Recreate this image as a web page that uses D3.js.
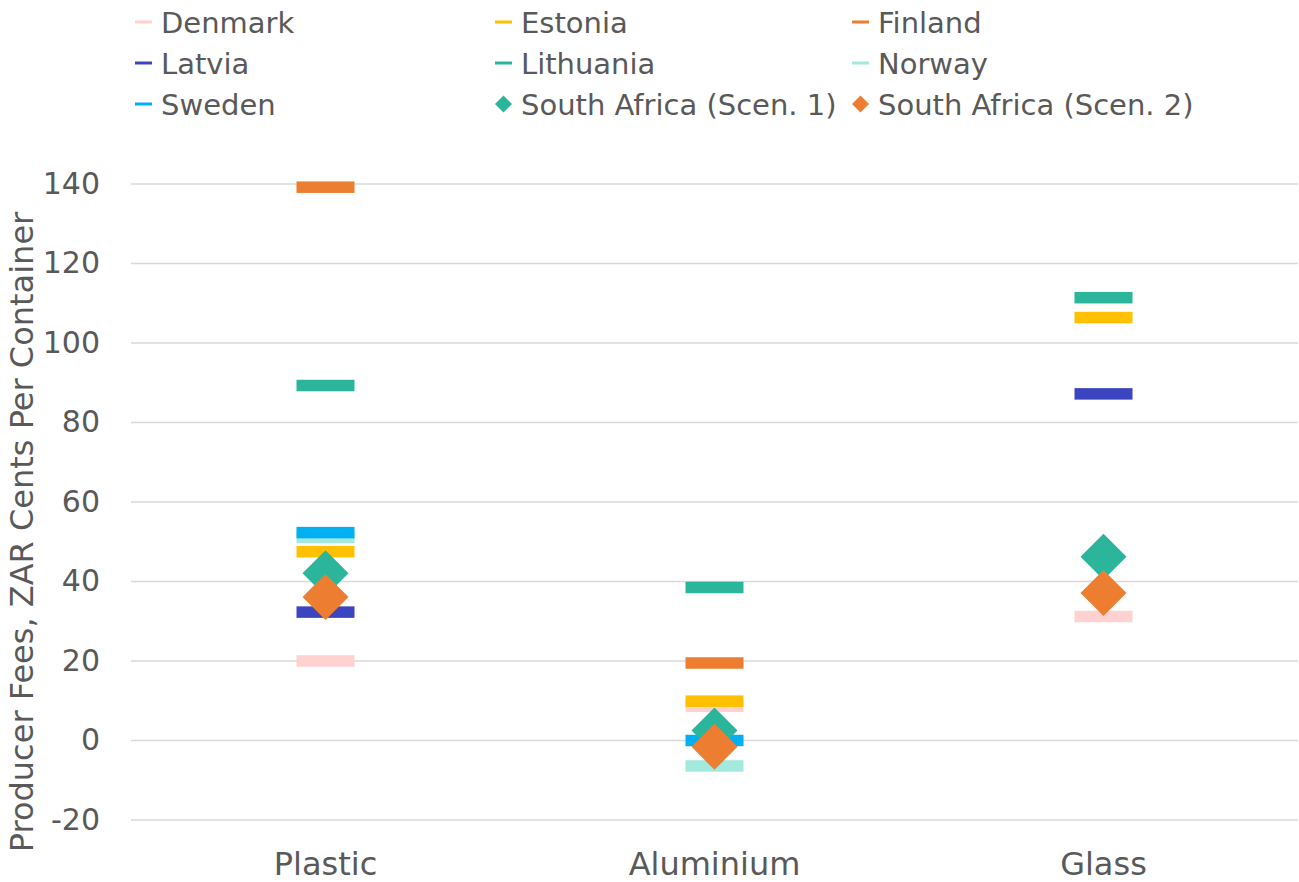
<!DOCTYPE html>
<html>
<head>
<meta charset="utf-8">
<script src="https://cdn.jsdelivr.net/npm/d3@7"></script>
<style>
  html, body { margin: 0; padding: 0; background: #fff; }
  svg text { font-family: "DejaVu Sans", sans-serif; fill: #595959; }
</style>
</head>
<body>
<svg id="chart" width="1299" height="882"></svg>
<script>
// ---- data ----
const categories = ["Plastic", "Aluminium", "Glass"];
const seriesNames = ["Denmark", "Estonia", "Finland", "Latvia", "Lithuania", "Norway", "Sweden",
                     "South Africa (Scen. 1)", "South Africa (Scen. 2)"];
const denmark   = [20.0, 8.6, 31.2];
const estonia   = [47.5, 9.9, 106.4];
const finland   = [139.2, 19.5, null];
const latvia    = [32.3, null, 87.2];
const lithuania = [89.3, 38.5, 111.4];
const norway    = [51.1, -6.4, null];
const sweden    = [52.3, 0.0, null];
const saScen1   = [42.1, 2.5, 46.2];
const saScen2   = [36.1, -1.6, 37.1];
const yTicks = [-20, 0, 20, 40, 60, 80, 100, 120, 140];

const seriesValues = [denmark, estonia, finland, latvia, lithuania, norway, sweden, saScen1, saScen2];
const colors = ["#FFD1D1", "#FFC000", "#ED7D31", "#3A45BF", "#2BB59A", "#A3E9DD", "#00B0F0", "#2BB59A", "#ED7D31"];
const shapes = ["dash", "dash", "dash", "dash", "dash", "dash", "dash", "diamond", "diamond"];

const series = seriesNames.map((n, i) => ({ name: n, values: seriesValues[i], color: colors[i], shape: shapes[i] }));

const svg = d3.select("#chart");
const plotL = 131, plotR = 1298, plotT = 184, plotB = 820;

const x = d3.scalePoint().domain(categories).range([plotL, plotR]).padding(0.5);
const y = d3.scaleLinear().domain([-20, 140]).range([plotB, plotT]);

// gridlines
svg.append("g").selectAll("line").data(yTicks).join("line")
  .attr("x1", plotL).attr("x2", plotR)
  .attr("y1", d => y(d)).attr("y2", d => y(d))
  .attr("stroke", "#D9D9D9").attr("stroke-width", 1.5);

// y tick labels
svg.append("g").selectAll("text").data(yTicks).join("text")
  .attr("x", 100).attr("y", d => y(d)).attr("dy", "0.32em")
  .attr("text-anchor", "end").attr("font-size", 30)
  .text(d => d);

// x labels
svg.append("g").selectAll("text").data(categories).join("text")
  .attr("x", d => x(d)).attr("y", 875)
  .attr("text-anchor", "middle").attr("font-size", 32)
  .text(d => d);

// y title
svg.append("text")
  .attr("transform", `translate(33, 532) rotate(-90)`)
  .attr("text-anchor", "middle").attr("font-size", 32)
  .text("Producer Fees, ZAR Cents Per Container");

// marks
const barW = 58, barH = 11.5, dR = 23;
const marks = svg.append("g");
series.forEach(s => {
  const pts = categories.map((c, i) => ({ c, v: s.values[i] })).filter(p => p.v !== null);
  if (s.shape === "dash") {
    marks.append("g").selectAll("rect").data(pts).join("rect")
      .attr("x", d => x(d.c) - barW / 2).attr("y", d => y(d.v) - barH / 2)
      .attr("width", barW).attr("height", barH)
      .attr("fill", s.color);
  } else {
    marks.append("g").selectAll("path").data(pts).join("path")
      .attr("d", d => {
        const cx = x(d.c), cy = y(d.v);
        return `M${cx},${cy - dR}L${cx + dR},${cy}L${cx},${cy + dR}L${cx - dR},${cy}Z`;
      })
      .attr("fill", s.color);
  }
});

// legend
const colX = [135, 495, 852];
const rowY = [33, 74, 115];
const leg = svg.append("g");
series.forEach((s, i) => {
  const cx = colX[i % 3], by = rowY[Math.floor(i / 3)];
  const g = leg.append("g");
  if (s.shape === "dash") {
    g.append("rect").attr("x", cx).attr("y", by - 12.5).attr("width", 17).attr("height", 3).attr("fill", s.color);
  } else {
    const mx = cx + 8.5, my = by - 11, r = 8.5;
    g.append("path").attr("d", `M${mx},${my - r}L${mx + r},${my}L${mx},${my + r}L${mx - r},${my}Z`).attr("fill", s.color);
  }
  g.append("text").attr("x", cx + 26).attr("y", by).attr("font-size", 29).text(s.name);
});
</script>
</body>
</html>
